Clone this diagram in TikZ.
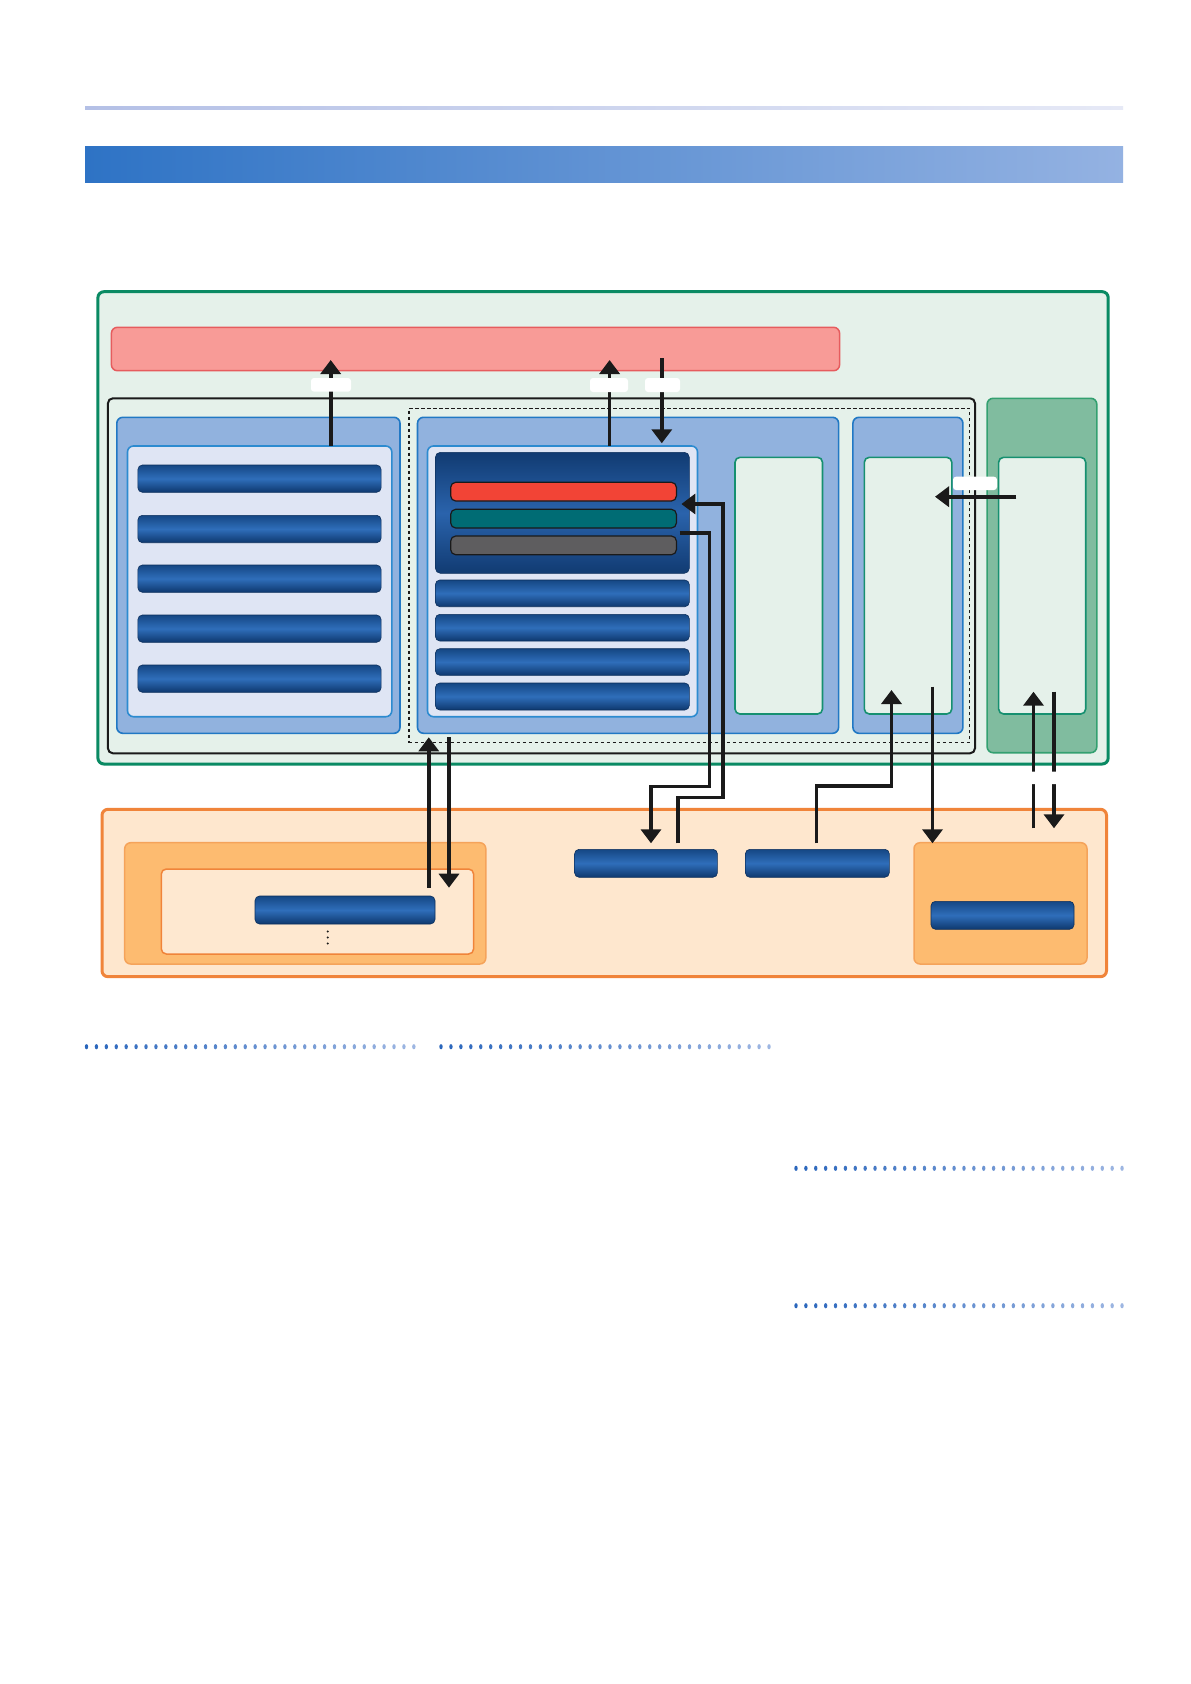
\documentclass[tikz,border=0pt]{standalone}
\usetikzlibrary{arrows.meta}
\definecolor{gBorder}{HTML}{0A8A63}
\definecolor{gFill}{HTML}{E5F1EA}
\definecolor{pinkF}{HTML}{F89B97}
\definecolor{pinkD}{HTML}{E65C5E}
\definecolor{bpF}{HTML}{91B2DE}
\definecolor{bpD}{HTML}{2178C4}
\definecolor{paleF}{HTML}{DFE5F4}
\definecolor{paleD}{HTML}{2C8BD0}
\definecolor{tallD}{HTML}{169070}
\definecolor{gpF}{HTML}{80BC9F}
\definecolor{gpD}{HTML}{33A070}
\definecolor{oF}{HTML}{FEE7CE}
\definecolor{oD}{HTML}{F0843A}
\definecolor{opF}{HTML}{FDBB70}
\definecolor{opD}{HTML}{F5A35A}
\definecolor{oiF}{HTML}{FEE8D0}
\definecolor{bbDark}{HTML}{154784}
\definecolor{bbLight}{HTML}{2F6EBA}
\definecolor{bbBot}{HTML}{0E386E}
\definecolor{bbEdge}{HTML}{0C2F5C}
\definecolor{dkTop}{HTML}{113B72}
\definecolor{dkMid}{HTML}{2A63AC}
\definecolor{redB}{HTML}{F24436}
\definecolor{tealB}{HTML}{006C74}
\definecolor{grayB}{HTML}{5E5D5F}
\definecolor{lineDark}{HTML}{1A1A1A}
\definecolor{dotA}{HTML}{2A66BC}
\definecolor{dotB}{HTML}{9DB6E2}
\definecolor{bandA}{HTML}{2E73C5}
\definecolor{bandB}{HTML}{94B2E2}
\definecolor{hlA}{HTML}{B4C0E6}
\definecolor{hlB}{HTML}{E6E9F6}
\newcommand\mkbox[6]{\node[#2,anchor=north west,minimum width={(#5)-(#3)},minimum height={(#6)-(#4)}] (#1) at (#3,#4) {};}
\tikzset{
  bx/.style={rectangle,inner sep=0pt,outer sep=0pt},
  outergreen/.style={bx,rounded corners=6pt,draw=gBorder,fill=gFill,line width=3pt},
  pinkbar/.style={bx,rounded corners=6pt,draw=pinkD,fill=pinkF,line width=1.5pt},
  blackbox/.style={bx,rounded corners=5pt,draw=lineDark,line width=2pt},
  dashbox/.style={bx,draw=lineDark,line width=1.2pt,dash pattern=on 3.5pt off 2.5pt},
  bluepanel/.style={bx,rounded corners=6pt,draw=bpD,fill=bpF,line width=1.6pt},
  palepanel/.style={bx,rounded corners=6pt,draw=paleD,fill=paleF,line width=1.6pt},
  tallbox/.style={bx,rounded corners=5pt,draw=tallD,fill=gFill,line width=1.6pt},
  greenpanel/.style={bx,rounded corners=6pt,draw=gpD,fill=gpF,line width=1.6pt},
  orangeouter/.style={bx,rounded corners=6pt,draw=oD,fill=oF,line width=3pt},
  orangepanel/.style={bx,rounded corners=6pt,draw=opD,fill=opF,line width=1.5pt},
  orangeinner/.style={bx,rounded corners=5pt,draw=oD,fill=oiF,line width=1.5pt},
  bluebar/.style={bx,rounded corners=4.5pt,top color=bbDark,bottom color=bbBot,middle color=bbLight,draw=bbEdge,line width=0.6pt},
  darkblock/.style={bx,rounded corners=5pt,top color=dkTop,bottom color=dkTop,middle color=dkMid,draw=bbEdge,line width=0.6pt},
  colbar/.style={bx,rounded corners=5pt,draw=lineDark,line width=1.2pt},
  arr/.style={draw=lineDark,line width=3.6pt,-{Triangle[width=20pt,length=14pt]}},
  blob/.style={bx,rounded corners=3pt,fill=white}
}
\begin{document}
\begin{tikzpicture}[x=1pt,y=-1pt,line join=miter]
\fill[white] (0,0) rectangle (1191,1684);
\useasboundingbox (0,0) rectangle (1191,1684);
% header rule and band
\shade[left color=hlA,right color=hlB] (85,106.8) rectangle (1123,109.8);
\shade[left color=bandA,right color=bandB] (85,146.7) rectangle (1123,182.7);
% main green area
\mkbox{outer}{outergreen}{97.9}{291.7}{1108.2}{764}
\mkbox{pink}{pinkbar}{111.4}{327.3}{839.6}{370.7}
\mkbox{blk}{blackbox}{107.9}{398.3}{975}{753.3}
\mkbox{dash}{dashbox}{408.9}{408.3}{969.6}{742.7}
% left panel
\mkbox{lp}{bluepanel}{116.8}{417.3}{400}{733.3}
\mkbox{lpi}{palepanel}{127.5}{446}{391.8}{716.7}
\mkbox{lb1}{bluebar}{137.9}{465}{381.1}{492.3}
\mkbox{lb2}{bluebar}{137.9}{515.3}{381.1}{542.7}
\mkbox{lb3}{bluebar}{137.9}{565}{381.1}{592.3}
\mkbox{lb4}{bluebar}{137.9}{615}{381.1}{642.3}
\mkbox{lb5}{bluebar}{137.9}{665}{381.1}{692.3}
% middle panel
\mkbox{mp}{bluepanel}{417.5}{417.3}{838.6}{733.3}
\mkbox{mpi}{palepanel}{427.5}{446}{697.5}{716.7}
\mkbox{dk}{darkblock}{435.4}{452.3}{689.3}{573.3}
\mkbox{red}{colbar,fill=redB}{450.7}{482.3}{676.4}{501}
\mkbox{teal}{colbar,fill=tealB}{450.7}{509.3}{676.4}{528}
\mkbox{gray}{colbar,fill=grayB}{450.7}{536}{676.4}{554.7}
\mkbox{mb1}{bluebar}{435.4}{580}{689.3}{606.7}
\mkbox{mb2}{bluebar}{435.4}{614.3}{689.3}{641}
\mkbox{mb3}{bluebar}{435.4}{648.7}{689.3}{675.3}
\mkbox{mb4}{bluebar}{435.4}{683}{689.3}{710}
\mkbox{mt}{tallbox}{735}{457.3}{822.5}{714}
% right panel
\mkbox{rp}{bluepanel}{852.9}{417.3}{962.9}{733.3}
\mkbox{rpi}{tallbox}{864.3}{457.3}{951.8}{714}
% green panel
\mkbox{gp}{greenpanel}{987.1}{398.3}{1096.8}{752.7}
\mkbox{gpi}{tallbox}{998.6}{457.3}{1085.7}{714}
% lower orange area
\mkbox{oo}{orangeouter}{102}{809.3}{1106.5}{976.7}
\mkbox{olp}{orangepanel}{124.7}{842.7}{485.8}{964}
\mkbox{oli}{orangeinner}{161.3}{869}{473.6}{954}
\mkbox{olb}{bluebar}{255}{896}{435}{924}
\fill[lineDark] (327.8,931.5) circle[radius=1.1pt] (327.8,937.5) circle[radius=1.1pt] (327.8,943.5) circle[radius=1.1pt];
\mkbox{ob1}{bluebar}{574.6}{849.3}{717.4}{877.3}
\mkbox{ob2}{bluebar}{745.4}{849.3}{889.3}{877.3}
\mkbox{orp}{orangepanel}{914}{842.7}{1087}{964}
\mkbox{orb}{bluebar}{931}{901.3}{1074}{929.3}
% connector end points
\coordinate (a1) at (330.7,360);
\coordinate (a2) at (609.6,360);
\coordinate (a3s) at (661.8,358);
\coordinate (ins) at (1016.4,496.7);
\coordinate (r1) at (681.4,504);
\coordinate (t1) at (679.6,532.7);
\coordinate (b2s) at (816.5,843.3);
\coordinate (b1s) at (678,843.3);
\coordinate (b1e) at (651,843.3);
\coordinate (rdn) at (932.5,843.3);
\coordinate (gup) at (1033.5,828.3);
\coordinate (gdn) at (1054,828.3);
\coordinate (lup) at (428.8,887.7);
\coordinate (ldn) at (449,887.7);
% connectors
\draw[arr] (lpi.north -| a1) -- (a1);
\draw[arr] (mpi.north -| a2) -- (a2);
\draw[arr] (a3s) -- (661.8,443.3);
\draw[arr] (ins) -- (935,496.7);
\draw[arr] (b1s) -- (678,797.5) -- (723,797.5) -- (723,504) -- (r1);
\draw[arr] (t1) -- (709.5,532.7) -- (709.5,786.5) -- (651,786.5) -- (b1e);
\draw[arr] (b2s) -- (816.5,786) -- (891.5,786) -- (891.5,690);
\draw[arr] (932.5,686.7) -- (rdn);
\draw[arr] (gup) -- (1033.5,691.7);
\draw[arr] (1054,691.7) -- (gdn);
\draw[arr] (lup) -- (428.8,737.3);
\draw[arr] (449,737.3) -- (ldn);
% white label blobs
\node[blob,anchor=north west,minimum width=40,minimum height=13.7] (w1) at (311,378) {};
\node[blob,anchor=north west,minimum width=38,minimum height=14] (w2) at (590,378) {};
\node[blob,anchor=north west,minimum width=35,minimum height=14] (w3) at (645,378) {};
\node[blob,anchor=north west,minimum width=44,minimum height=13.3] (w4) at (953,476.7) {};
\node[blob,anchor=north west,minimum width=34,minimum height=12.5] (w5) at (1026,771.5) {};
% dotted rules
\foreach \i in {0,...,33}{
  \pgfmathsetmacro\p{100-\i*100/33}
  \fill[dotA!\p!dotB] (86.5+\i*9.92,1046.7) ellipse[x radius=1.7pt,y radius=2.6pt];
  \fill[dotA!\p!dotB] (441+\i*9.94,1046.7) ellipse[x radius=1.7pt,y radius=2.6pt];
  \fill[dotA!\p!dotB] (796+\i*9.88,1168.3) ellipse[x radius=1.7pt,y radius=2.6pt];
  \fill[dotA!\p!dotB] (796+\i*9.88,1305.7) ellipse[x radius=1.7pt,y radius=2.6pt];
}
\end{tikzpicture}
\end{document}
